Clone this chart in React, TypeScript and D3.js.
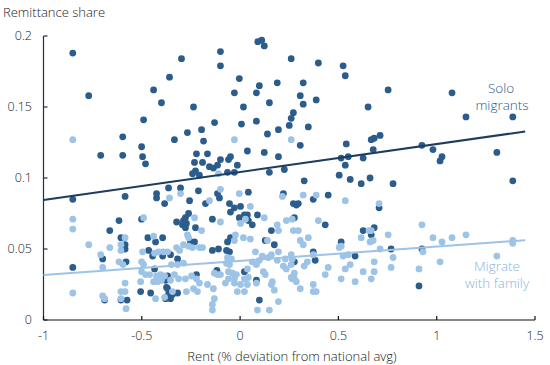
import React from "react";
import * as d3 from "d3";

// remittance share vs rent deviation
const SOLO: [number, number][] = [
  [-0.851, 0.188], [-0.770, 0.158], [-0.359, 0.171], [-0.440, 0.162], [-0.400, 0.153], [-0.491, 0.141],
  [-0.597, 0.129], [-0.501, 0.122], [-0.709, 0.116], [-0.597, 0.116], [-0.496, 0.115], [-0.481, 0.110],
  [-0.298, 0.184], [-0.100, 0.189], [-0.100, 0.179], [0.090, 0.196], [0.110, 0.197], [0.123, 0.193],
  [0.260, 0.184], [-0.004, 0.170], [0.098, 0.165], [0.189, 0.167], [-0.029, 0.160], [0.083, 0.160],
  [0.149, 0.153], [-0.237, 0.150], [0.017, 0.150], [0.271, 0.146], [0.260, 0.142], [-0.130, 0.139],
  [0.007, 0.138], [0.083, 0.140], [-0.196, 0.134], [0.250, 0.137], [0.195, 0.134], [-0.334, 0.127],
  [-0.268, 0.132], [-0.186, 0.126], [0.139, 0.131], [-0.222, 0.117], [-0.166, 0.117], [-0.232, 0.111],
  [-0.191, 0.111], [-0.100, 0.113], [-0.059, 0.113], [-0.049, 0.115], [0.037, 0.119], [0.123, 0.118],
  [0.195, 0.115], [-0.156, 0.108], [-0.136, 0.107], [-0.115, 0.109], [-0.014, 0.109], [-0.227, 0.105],
  [-0.242, 0.103], [-0.207, 0.102], [-0.064, 0.104], [-0.029, 0.104], [0.149, 0.104], [0.225, 0.106],
  [0.398, 0.181], [0.524, 0.179], [0.535, 0.172], [0.321, 0.167], [0.753, 0.162], [0.306, 0.158],
  [0.321, 0.152], [0.387, 0.155], [0.651, 0.150], [0.347, 0.136], [0.306, 0.123], [0.540, 0.124],
  [0.667, 0.127], [0.682, 0.128], [0.712, 0.130], [0.677, 0.120], [0.514, 0.114], [0.550, 0.115],
  [0.626, 0.114], [0.535, 0.109], [0.504, 0.102], [0.560, 0.099], [0.661, 0.100], [0.326, 0.098],
  [1.078, 0.160], [1.149, 0.143], [1.387, 0.143], [0.925, 0.123], [0.981, 0.120], [1.027, 0.115],
  [1.017, 0.112], [1.306, 0.118], [1.387, 0.098],
  [-0.851, 0.085], [-0.585, 0.087], [-0.425, 0.089], [-0.425, 0.086], [-0.384, 0.082], [-0.364, 0.093],
  [-0.616, 0.070], [-0.501, 0.071], [-0.663, 0.063], [-0.606, 0.058], [-0.469, 0.058], [-0.394, 0.058],
  [-0.430, 0.055], [-0.585, 0.053], [-0.585, 0.050], [-0.699, 0.043], [-0.851, 0.037], [-0.580, 0.041],
  [-0.465, 0.049], [-0.445, 0.045], [-0.394, 0.045], [-0.435, 0.036], [-0.379, 0.028], [-0.369, 0.031],
  [-0.374, 0.023], [-0.506, 0.020], [-0.455, 0.019], [-0.689, 0.014], [-0.606, 0.014], [-0.575, 0.014],
  [-0.369, 0.022], [-0.364, 0.018], [-0.379, 0.015],
  [-0.303, 0.093], [-0.212, 0.091], [-0.257, 0.084], [-0.176, 0.082], [-0.115, 0.089], [-0.105, 0.086],
  [-0.054, 0.082], [-0.029, 0.079], [0.002, 0.080], [0.042, 0.090], [-0.049, 0.076], [0.088, 0.074],
  [-0.004, 0.072], [0.022, 0.074], [0.037, 0.074], [0.042, 0.070], [0.062, 0.067], [-0.262, 0.075],
  [-0.278, 0.072], [-0.288, 0.070], [-0.293, 0.067], [-0.273, 0.068], [-0.323, 0.069], [-0.141, 0.071],
  [-0.227, 0.065], [-0.278, 0.065], [-0.252, 0.055], [-0.232, 0.055], [-0.141, 0.049], [-0.110, 0.050],
  [-0.069, 0.049], [-0.054, 0.048], [-0.064, 0.055], [-0.049, 0.058], [0.128, 0.056], [0.159, 0.063],
  [0.174, 0.053], [0.220, 0.089], [0.271, 0.082], [0.276, 0.072], [-0.354, 0.046], [-0.318, 0.043],
  [-0.344, 0.018], [-0.318, 0.019], [-0.354, 0.015], [-0.222, 0.032], [-0.118, 0.035], [0.022, 0.034],
  [0.083, 0.028], [0.098, 0.014],
  [0.616, 0.096], [0.778, 0.096], [0.372, 0.085], [0.448, 0.088], [0.286, 0.081], [0.296, 0.082],
  [0.707, 0.079], [0.433, 0.067], [0.626, 0.063], [0.682, 0.065], [0.667, 0.060], [0.514, 0.055],
  [0.768, 0.050], [0.372, 0.048], [0.382, 0.042], [0.276, 0.041], [0.585, 0.045], [0.910, 0.024],
  [0.925, 0.050],
];

const FAMILY: [number, number][] = [
  [-0.851, 0.127], [-0.029, 0.127], [0.260, 0.127], [-0.110, 0.103],
  [-0.359, 0.086], [-0.851, 0.071], [-0.851, 0.064], [-0.491, 0.072], [-0.585, 0.058], [-0.440, 0.059],
  [-0.770, 0.053], [-0.663, 0.051], [-0.606, 0.053], [-0.606, 0.049], [-0.709, 0.046], [-0.699, 0.037],
  [-0.616, 0.041], [-0.596, 0.039], [-0.496, 0.048], [-0.435, 0.047], [-0.415, 0.048], [-0.389, 0.048],
  [-0.369, 0.048], [-0.501, 0.041], [-0.491, 0.039], [-0.501, 0.034], [-0.481, 0.032], [-0.460, 0.032],
  [-0.425, 0.031], [-0.405, 0.032], [-0.384, 0.031], [-0.440, 0.027], [-0.420, 0.027], [-0.400, 0.028],
  [-0.585, 0.026], [-0.606, 0.020], [-0.585, 0.020], [-0.506, 0.027], [-0.851, 0.019], [-0.699, 0.017],
  [-0.689, 0.015], [-0.606, 0.015], [-0.580, 0.008], [-0.430, 0.015], [-0.384, 0.016],
  [-0.303, 0.089], [-0.156, 0.084], [-0.100, 0.092], [-0.004, 0.089], [0.052, 0.080], [0.123, 0.072],
  [0.002, 0.068], [0.027, 0.071], [-0.232, 0.072], [-0.100, 0.069], [-0.196, 0.063], [-0.268, 0.060],
  [-0.262, 0.058], [-0.288, 0.053], [-0.262, 0.052], [-0.242, 0.051], [-0.207, 0.051], [-0.191, 0.051],
  [-0.029, 0.056], [-0.024, 0.060], [0.017, 0.058], [0.052, 0.057], [0.139, 0.056], [0.189, 0.067],
  [0.195, 0.063], [0.195, 0.048], [0.215, 0.087], [0.235, 0.070], [0.265, 0.071], [0.271, 0.063],
  [-0.323, 0.051], [-0.308, 0.049], [-0.349, 0.039], [-0.318, 0.039], [-0.288, 0.040], [-0.334, 0.032],
  [-0.313, 0.029], [-0.278, 0.029], [-0.247, 0.031], [-0.222, 0.029], [-0.207, 0.026], [-0.237, 0.022],
  [-0.217, 0.020], [-0.273, 0.020], [-0.354, 0.028], [-0.344, 0.020], [-0.166, 0.025], [-0.136, 0.022],
  [-0.131, 0.015], [-0.141, 0.011], [-0.141, 0.007], [-0.131, 0.033], [-0.115, 0.032], [-0.100, 0.032],
  [-0.069, 0.040], [-0.054, 0.039], [-0.064, 0.044], [-0.044, 0.043], [-0.059, 0.034], [-0.039, 0.033],
  [-0.019, 0.032], [-0.029, 0.029], [-0.059, 0.029], [-0.075, 0.026], [-0.029, 0.026], [-0.014, 0.020],
  [0.022, 0.020], [0.037, 0.036], [0.062, 0.041], [0.083, 0.039], [0.098, 0.042], [0.113, 0.045],
  [0.144, 0.044], [0.159, 0.046], [0.083, 0.026], [0.042, 0.030], [0.037, 0.025], [0.002, 0.025],
  [0.088, 0.007], [0.149, 0.007], [0.118, 0.034], [0.128, 0.032], [0.159, 0.025], [0.174, 0.021],
  [0.195, 0.013], [0.164, 0.027], [0.220, 0.038], [0.235, 0.036], [0.260, 0.039], [0.265, 0.029],
  [0.276, 0.033], [0.022, 0.029], [0.189, 0.042], [0.230, 0.043], [0.078, 0.048],
  [0.321, 0.088], [0.387, 0.088], [0.535, 0.084], [0.707, 0.082], [0.398, 0.070], [0.296, 0.063],
  [0.656, 0.063], [0.667, 0.063], [0.616, 0.058], [0.753, 0.060], [0.306, 0.056], [0.321, 0.053],
  [0.347, 0.058], [0.661, 0.055], [0.677, 0.056], [0.504, 0.051], [0.514, 0.052], [0.712, 0.050],
  [0.778, 0.044], [0.372, 0.046], [0.260, 0.046], [0.265, 0.043], [0.342, 0.041], [0.326, 0.038],
  [0.524, 0.045], [0.550, 0.046], [0.682, 0.041], [0.560, 0.039], [0.535, 0.036], [0.448, 0.037],
  [0.433, 0.032], [0.768, 0.037], [0.626, 0.034], [0.682, 0.034], [0.514, 0.029], [0.585, 0.027],
  [0.667, 0.029], [0.260, 0.030], [0.276, 0.029], [0.286, 0.027], [0.306, 0.022], [0.372, 0.025],
  [0.372, 0.020], [0.387, 0.020], [0.910, 0.036],
  [0.925, 0.067], [0.981, 0.058], [1.027, 0.055], [1.078, 0.058], [1.149, 0.060], [0.930, 0.048],
  [1.387, 0.056], [1.387, 0.054], [1.306, 0.045], [1.017, 0.041],
];

// fitted lines: [intercept, slope], drawn over the rent range
const SOLO_FIT = [0.1042, 0.0197];
const FAMILY_FIT = [0.0417, 0.0100];
const FIT_RANGE = [-1, 1.45];

const X_TICKS = [-1, -0.5, 0, 0.5, 1, 1.5];
const Y_TICKS = [0, 0.05, 0.1, 0.15, 0.2];

const DARK = "#2b5c8c";
const DARK_LINE = "#1d3d5e";
const LIGHT = "#9dc3e6";
const FONT = "'Open Sans', sans-serif";

export default function App() {
  const x = d3.scaleLinear().domain([-1, 1.5]).range([43.5, 535]);
  const y = d3.scaleLinear().domain([0, 0.2]).range([320, 36]);

  const fitLine = (fit: number[]) =>
    d3.line<number>()
      .x((d) => x(d))
      .y((d) => y(fit[0] + fit[1] * d))(FIT_RANGE) || "";

  const fmt = (v: number) => String(v);

  return (
    <svg width={550} height={365} style={{ position: "absolute", left: 0, top: 0, fontFamily: FONT, fontWeight: 300 }}>
      <rect width={550} height={365} fill="#fff" />

      <text x={3} y={17} fontSize={13} fill="#222">Remittance share</text>

      {/* y axis */}
      <line x1={x(-1)} x2={x(-1)} y1={y(0.2)} y2={y(0)} stroke="#1d2f4f" strokeWidth={1.2} />
      {Y_TICKS.map((t) => (
        <g key={t}>
          <line x1={x(-1)} x2={x(-1) + 4} y1={y(t)} y2={y(t)} stroke="#1d2f4f" strokeWidth={1.2} />
          <text x={32} y={y(t)} dy="0.35em" textAnchor="end" fontSize={12.5} fill="#222">{fmt(t)}</text>
        </g>
      ))}

      {/* x axis */}
      <line x1={x(-1)} x2={x(1.5)} y1={y(0)} y2={y(0)} stroke="#111" strokeWidth={1.2} />
      {X_TICKS.map((t) => (
        <g key={t}>
          <line x1={x(t)} x2={x(t)} y1={y(0)} y2={y(0) - 4} stroke="#111" strokeWidth={1.2} />
          <text x={x(t)} y={y(0) + 20} textAnchor="middle" fontSize={12.5} fill="#222">{fmt(t)}</text>
        </g>
      ))}
      <text x={292} y={361} textAnchor="middle" fontSize={13} fill="#222">Rent (% deviation from national avg)</text>

      {SOLO.map((d, i) => (
        <circle key={"s" + i} cx={x(d[0])} cy={y(d[1])} r={3.4} fill={DARK} />
      ))}
      {FAMILY.map((d, i) => (
        <circle key={"f" + i} cx={x(d[0])} cy={y(d[1])} r={3.4} fill={LIGHT} />
      ))}

      <path d={fitLine(SOLO_FIT)} stroke={DARK_LINE} strokeWidth={2} fill="none" />
      <path d={fitLine(FAMILY_FIT)} stroke={LIGHT} strokeWidth={2} fill="none" />

      <text x={501} y={93} textAnchor="middle" fontSize={13.5} fill={DARK}>Solo</text>
      <text x={502} y={110} textAnchor="middle" fontSize={13.5} fill={DARK}>migrants</text>
      <text x={497} y={271} textAnchor="middle" fontSize={13.5} fill="#8ab4de">Migrate</text>
      <text x={497} y={288} textAnchor="middle" fontSize={13.5} fill="#8ab4de">with family</text>
    </svg>
  );
}
